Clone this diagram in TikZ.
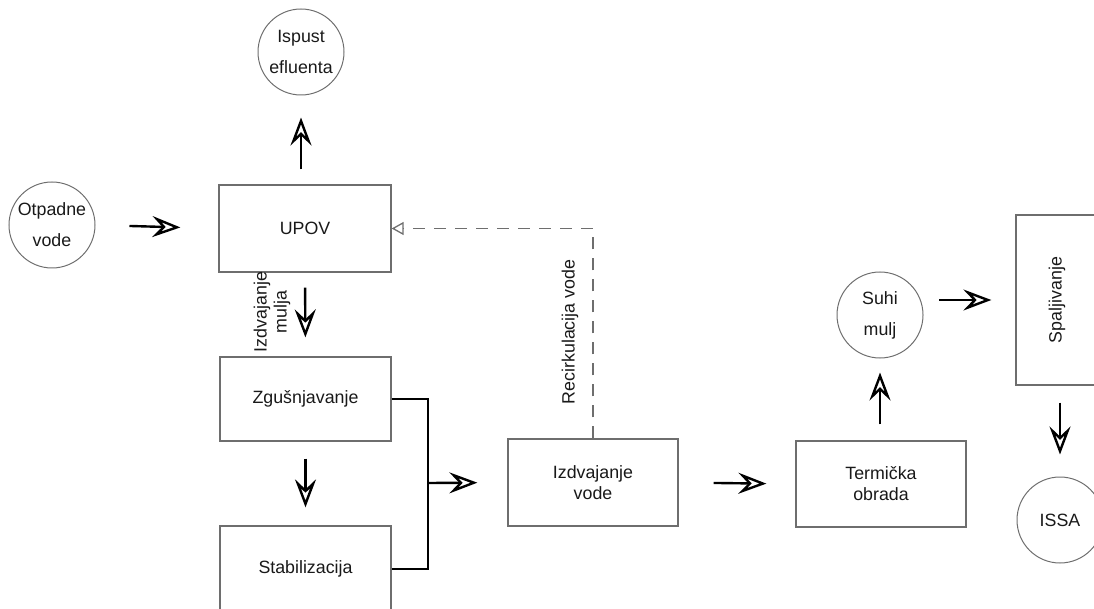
\documentclass[tikz,border=0pt]{standalone}
\usepackage{fontspec}
\setmainfont{Liberation Sans}
\usetikzlibrary{arrows.meta,calc}
\definecolor{edge}{RGB}{110,110,110}
\definecolor{txt}{RGB}{25,25,25}
\tikzset{
  every node/.style={text=txt,font=\fontsize{17.8}{21}\selectfont},
  boxnode/.style={draw=edge,line width=1.3pt,rectangle,minimum width=171pt,minimum height=86pt,align=center,inner sep=0pt},
  circnode/.style={draw=edge,line width=1pt,circle,minimum size=86pt,align=center,inner sep=0pt,font=\fontsize{17.8}{31}\selectfont},
  flow/.style={draw=black,line width=2.4pt,-{Stealth[open,length=28pt,width=21pt,inset=10pt,line width=2.4pt]}},
  recirc/.style={draw=edge,line width=1.3pt,dash pattern=on 12pt off 9pt,-{Triangle[open,length=12pt,width=13pt,line width=1.3pt]}},
  lbl/.style={align=center,font=\fontsize{17.8}{20}\selectfont}
}
\begin{document}
\begin{tikzpicture}[x=1pt,y=-1pt]
\useasboundingbox (0,0) rectangle (1094,609);
% nodes
\node[circnode] (isp) at (301,52) {Ispust\\efluenta};
\node[circnode] (otp) at (52,225) {Otpadne\\vode};
\node[boxnode,minimum width=172pt,minimum height=87pt] (upov) at (305,228.5) {UPOV};
\node[boxnode,minimum height=84pt] (zg) at (305.5,399) {Zgušnjavanje};
\node[boxnode] (stab) at (305.5,569) {Stabilizacija};
\node[boxnode,minimum width=170pt,minimum height=87pt] (izv) at (593,482.5) {Izdvajanje\\vode};
\node[boxnode,minimum width=170pt] (term) at (881,484) {Termička\\obrada};
\node[circnode] (suhi) at (880,315) {Suhi\\mulj};
\node[boxnode,minimum width=82pt,minimum height=170pt] (spal) at (1057,300) {};
\node[rotate=90] at (spal.center) {Spaljivanje};
\node[circnode] (issa) at (1060,520) {ISSA};
% labels
\node[lbl,rotate=90] (lmulj) at (272,312) {Izdvajanje\\mulja};
\node[lbl,rotate=90] (lrec) at (570,332) {Recirkulacija vode};
% connectors
\draw[flow,shorten <=34pt,shorten >=38pt] (otp.east) -- (upov.west);
\draw[flow,shorten <=15pt,shorten >=22pt] (upov.north -| isp.south) -- (isp.south);
\draw[flow,shorten <=15pt,shorten >=19pt] (upov.south) -- (zg.north);
\draw[flow,shorten <=17pt,shorten >=18pt] (zg.south) -- (stab.north);
\coordinate (jn) at (428,483);
\draw[black,line width=2.4pt] (zg.east) -| (jn) |- (stab.east);
\draw[flow,shorten >=30pt] (jn) -- (izv.west);
\draw[flow,shorten <=35pt,shorten >=29pt] (izv.east) -- (term.west);
\draw[flow,shorten <=16pt,shorten >=14pt] (term.north -| suhi.south) -- (suhi.south);
\coordinate (sa) at (939,300);
\draw[flow,shorten >=24pt] (sa) -- (spal.west);
\draw[flow,shorten <=17pt,shorten >=22pt] (spal.south -| issa.north) -- (issa.north);
\draw[recirc] (izv.north) |- (upov.east);
\end{tikzpicture}
\end{document}
